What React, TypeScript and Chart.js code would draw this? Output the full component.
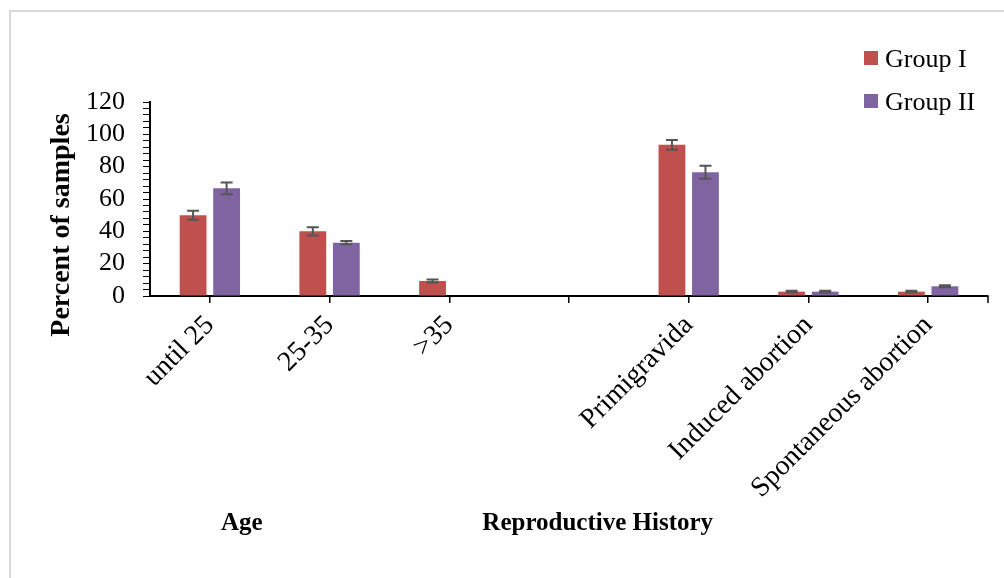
import React, { useEffect, useRef } from 'react';
import { Chart, registerables } from 'chart.js';

Chart.register(...registerables);

const categories = ['until 25', '25-35', '>35', '', 'Primigravida', 'Induced abortion', 'Spontaneous abortion'];
const groupI = [50, 40, 9.3, null, 93.5, 2.7, 2.7];
const groupII = [66.6, 33, 0, null, 76.5, 2.7, 6];
const groupIErr = [2.8, 2.5, 0.9, null, 3, 0.5, 0.5];
const groupIIErr = [3.6, 1, 0, null, 4, 0.5, 0.6];
const seriesNames = ['Group I', 'Group II'];
const seriesColors = ['#C0504D', '#8064A2'];
const yMin = 0;
const yMax = 120;
const yMajorStep = 20;
const yMinorStep = 4;
const yTitle = 'Percent of samples';
const groupTitles = ['Age', 'Reproductive History'];

const SERIF = '"Liberation Serif", "Times New Roman", serif';

const errorBarPlugin = {
  id: 'errorBars',
  afterDatasetsDraw(chart: any) {
    const ctx = chart.ctx;
    const yScale = chart.scales.y;
    chart.data.datasets.forEach((ds: any, i: number) => {
      const meta = chart.getDatasetMeta(i);
      const errs = ds.errors || [];
      meta.data.forEach((bar: any, j: number) => {
        const v = ds.data[j];
        const e = errs[j];
        if (v == null || !e) return;
        const x = bar.x;
        const yTop = yScale.getPixelForValue(v + e);
        const yBot = yScale.getPixelForValue(v - e);
        ctx.save();
        ctx.strokeStyle = '#555555';
        ctx.lineWidth = 2;
        ctx.beginPath();
        ctx.moveTo(x, yTop);
        ctx.lineTo(x, yBot);
        ctx.moveTo(x - 6, yTop);
        ctx.lineTo(x + 6, yTop);
        ctx.moveTo(x - 6, yBot);
        ctx.lineTo(x + 6, yBot);
        ctx.stroke();
        ctx.restore();
      });
    });
  },
};

const decorPlugin = {
  id: 'decor',
  beforeDraw(chart: any) {
    const ctx = chart.ctx;
    ctx.save();
    ctx.fillStyle = '#ffffff';
    ctx.fillRect(0, 0, chart.width, chart.height);
    ctx.strokeStyle = '#d9d9d9';
    ctx.lineWidth = 2;
    ctx.strokeRect(10, 11, chart.width + 50, chart.height + 50);
    ctx.restore();
  },
  afterDraw(chart: any) {
    const ctx = chart.ctx;
    const area = chart.chartArea;
    const xScale = chart.scales.x;
    ctx.save();
    // extra tick at right end of category axis
    ctx.strokeStyle = '#000';
    ctx.lineWidth = 1.5;
    ctx.beginPath();
    ctx.moveTo(area.right, area.bottom);
    ctx.lineTo(area.right, area.bottom + 7);
    ctx.stroke();

    // legend
    chart.data.datasets.forEach((ds: any, i: number) => {
      const top = 51 + i * 43;
      ctx.fillStyle = ds.backgroundColor;
      ctx.fillRect(864, top, 14, 14);
      ctx.fillStyle = '#000';
      ctx.font = `26px ${SERIF}`;
      ctx.textAlign = 'left';
      ctx.textBaseline = 'alphabetic';
      ctx.fillText(ds.label, 885, top + 16);
    });

    // y title
    ctx.save();
    ctx.translate(62, 225);
    ctx.rotate(-Math.PI / 2);
    ctx.font = `bold 28px ${SERIF}`;
    ctx.fillStyle = '#000';
    ctx.textAlign = 'center';
    ctx.textBaseline = 'middle';
    ctx.fillText(yTitle, 0, 0);
    ctx.restore();

    // group titles
    ctx.font = `bold 25px ${SERIF}`;
    ctx.fillStyle = '#000';
    ctx.textAlign = 'center';
    ctx.textBaseline = 'alphabetic';
    const c0 = xScale.getPixelForValue(0);
    const c4 = xScale.getPixelForValue(4);
    ctx.fillText(groupTitles[0], c0 + 32, 530);
    ctx.fillText(groupTitles[1], c4 - 91, 530);
    ctx.restore();
  },
};

export default function App() {
  const canvasRef = useRef<HTMLCanvasElement | null>(null);

  useEffect(() => {
    if (!canvasRef.current) return;
    const chart = new Chart(canvasRef.current, {
      type: 'bar',
      data: {
        labels: categories,
        datasets: [
          {
            label: seriesNames[0],
            data: groupI,
            backgroundColor: seriesColors[0],
            errors: groupIErr,
            categoryPercentage: 0.56,
            barPercentage: 0.8,
          } as any,
          {
            label: seriesNames[1],
            data: groupII,
            backgroundColor: seriesColors[1],
            errors: groupIIErr,
            categoryPercentage: 0.56,
            barPercentage: 0.8,
          } as any,
        ],
      },
      options: {
        animation: false,
        responsive: true,
        maintainAspectRatio: false,
        layout: { padding: { top: 102, right: 16, left: 0, bottom: 0 } },
        plugins: {
          legend: { display: false },
          tooltip: { enabled: false },
        },
        scales: {
          x: {
            offset: true,
            grid: {
              offset: false,
              drawOnChartArea: false,
              drawTicks: true,
              tickLength: 7,
              color: '#000',
              lineWidth: 1.5,
            },
            border: { color: '#000', width: 2 },
            ticks: {
              autoSkip: false,
              minRotation: 45,
              maxRotation: 45,
              padding: 6,
              color: '#000',
              font: { family: SERIF, size: 28 },
            },
            afterFit: (scale: any) => {
              scale.height = 282;
            },
          },
          y: {
            min: yMin,
            max: yMax,
            grid: {
              drawOnChartArea: false,
              drawTicks: true,
              tickLength: 7,
              color: '#000',
              lineWidth: 1,
            },
            border: { color: '#000', width: 2 },
            ticks: {
              stepSize: yMinorStep,
              autoSkip: false,
              padding: 18,
              color: '#000',
              font: { family: SERIF, size: 26 },
              callback: (v: any) => (Number(v) % yMajorStep === 0 ? String(v) : ''),
            },
            afterFit: (scale: any) => {
              scale.width = 150;
            },
          },
        },
      } as any,
      plugins: [errorBarPlugin, decorPlugin],
    });
    return () => chart.destroy();
  }, []);

  return (
    <div style={{ position: 'fixed', left: 0, top: 0, width: 1004, height: 578 }}>
      <canvas ref={canvasRef} />
    </div>
  );
}
